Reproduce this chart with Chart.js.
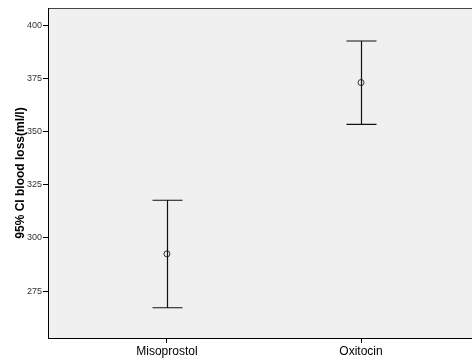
<!DOCTYPE html>
<html>
<head>
<meta charset="utf-8">
<script src="https://cdn.jsdelivr.net/npm/chart.js@4/dist/chart.umd.min.js"></script>
<style>
  html, body { margin: 0; padding: 0; background: #fff; }
  #wrap { width: 472px; height: 360px; }
</style>
</head>
<body>
<div id="wrap"><canvas id="ci"></canvas></div>
<script>
// groups and their 95% CI of blood loss
var groups = ['Misoprostol', 'Oxitocin'];
var means = [292.5, 373.0];
var lower = [267.2, 353.3];
var upper = [317.7, 392.5];
var yTicks = [275, 300, 325, 350, 375, 400];

// draws the gray plot area plus the top frame line
var plotBack = {
    id: 'plotBack',
    beforeDraw: function (chart) {
        var a = chart.chartArea, ctx = chart.ctx;
        ctx.save();
        ctx.fillStyle = '#f0f0f0';
        ctx.fillRect(a.left, a.top, a.right - a.left, a.bottom - a.top);
        ctx.strokeStyle = '#444';
        ctx.lineWidth = 1;
        ctx.beginPath();
        ctx.moveTo(a.left, a.top + 0.5);
        ctx.lineTo(a.right, a.top + 0.5);
        ctx.stroke();
        ctx.restore();
    }
};

// whiskers with caps, placed through the chart scales
var errorBars = {
    id: 'errorBars',
    afterDatasetsDraw: function (chart) {
        var xs = chart.scales.x, ys = chart.scales.y, ctx = chart.ctx;
        ctx.save();
        ctx.strokeStyle = '#111';
        ctx.lineWidth = 1.2;
        for (var i = 0; i < groups.length; i++) {
            var x = Math.round(xs.getPixelForValue(i)) + 0.5;
            var yl = ys.getPixelForValue(lower[i]);
            var yh = ys.getPixelForValue(upper[i]);
            ctx.beginPath();
            ctx.moveTo(x, yh);
            ctx.lineTo(x, yl);
            ctx.moveTo(x - 15, yh);
            ctx.lineTo(x + 15, yh);
            ctx.moveTo(x - 15, yl);
            ctx.lineTo(x + 15, yl);
            ctx.stroke();
        }
        ctx.restore();
    }
};

new Chart(
    document.getElementById('ci'),
    {
        type: 'scatter',
        data: {
            datasets: [
                {
                    label: 'mean',
                    data: means.map(function (m, i) { return { x: i, y: m }; }),
                    pointStyle: 'circle',
                    pointRadius: 3,
                    pointBorderWidth: 1,
                    pointBorderColor: '#333',
                    pointBackgroundColor: 'rgba(0,0,0,0)'
                }
            ]
        },
        options: {
            responsive: true,
            maintainAspectRatio: false,
            animation: false,
            layout: { autoPadding: false, padding: { top: 8, right: 0, left: 0, bottom: 0 } },
            plugins: {
                legend: { display: false },
                tooltip: { enabled: false }
            },
            scales: {
                x: {
                    type: 'linear',
                    min: -0.613,
                    max: 1.572,
                    afterBuildTicks: function (s) {
                        s.ticks = groups.map(function (g, i) { return { value: i }; });
                    },
                    afterFit: function (s) { s.height = 22; },
                    ticks: {
                        callback: function (v) { return groups[v]; },
                        font: { family: 'Liberation Sans', size: 12 },
                        color: '#000',
                        padding: 1,
                        maxRotation: 0
                    },
                    grid: { display: true, drawOnChartArea: false, tickLength: 5, color: '#000' },
                    border: { display: true, color: '#000', width: 1 }
                },
                y: {
                    min: 253,
                    max: 408,
                    afterBuildTicks: function (s) {
                        s.ticks = yTicks.map(function (v) { return { value: v }; });
                    },
                    afterFit: function (s) { s.width = 48; },
                    ticks: {
                        font: { family: 'Liberation Sans', size: 9 },
                        color: '#333',
                        padding: 1
                    },
                    grid: { display: true, drawOnChartArea: false, tickLength: 5, color: '#000' },
                    border: { display: true, color: '#000', width: 1 },
                    title: {
                        display: true,
                        text: '95% CI blood loss(ml/l)',
                        font: { family: 'Liberation Sans', size: 12, weight: 'bold' },
                        color: '#000',
                        padding: { top: 13, bottom: 0 }
                    }
                }
            }
        },
        plugins: [plotBack, errorBars]
    }
);
</script>
</body>
</html>
